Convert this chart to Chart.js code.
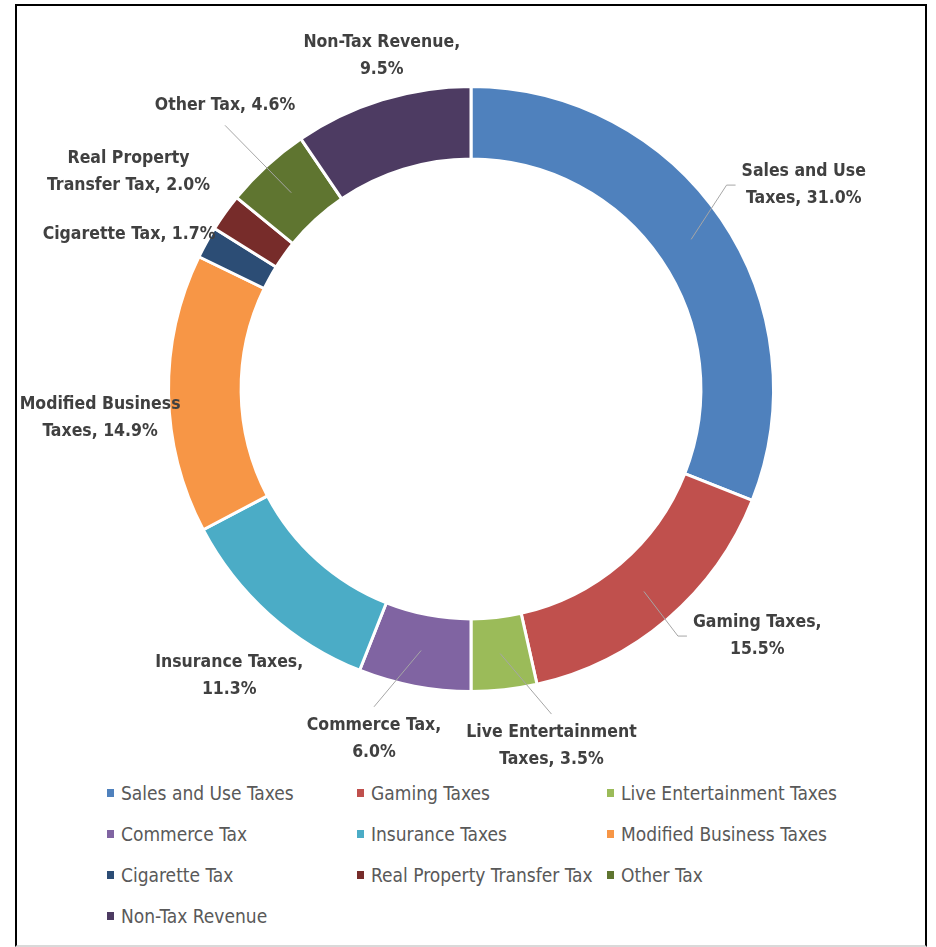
<!DOCTYPE html>
<html lang="en">
<head>
    <meta charset="UTF-8">
    <title>Revenue Share by Source</title>
    <script src="https://cdn.jsdelivr.net/npm/chart.js"></script>
    <style>
        body { margin: 0; background: #fff; width: 936px; height: 947px; position: relative; overflow: hidden; }
        .frame {
            position: absolute; left: 15px; top: 4px; width: 908px; height: 939px;
            border: 2px solid #000; border-bottom-color: #d9d9d9;
        }
        #revenueChart { position: absolute; left: 16px; top: 6px; }
        .legend {
            position: absolute; left: 107px; top: 772px;
            display: grid; grid-template-columns: 250px 250px 250px; grid-auto-rows: 41px;
            font-family: "Liberation Sans Narrow", "DejaVu Sans Condensed", sans-serif;
            font-size: 19px; color: #595959;
        }
        .legend div { display: flex; align-items: center; white-space: nowrap; }
        .legend span.box { display: inline-block; width: 7px; height: 8px; margin-right: 7px; }
    </style>
</head>
<body>
    <div class="frame"></div>
    <canvas id="revenueChart" width="910" height="766"></canvas>
    <div class="legend" id="legend"></div>

    <script>
        // revenue sources, clockwise from 12 o'clock
        const categories = [
            'Sales and Use Taxes', 'Gaming Taxes', 'Live Entertainment Taxes', 'Commerce Tax',
            'Insurance Taxes', 'Modified Business Taxes', 'Cigarette Tax',
            'Real Property Transfer Tax', 'Other Tax', 'Non-Tax Revenue'
        ];
        const shares = [31.0, 15.5, 3.5, 6.0, 11.3, 14.9, 1.7, 2.0, 4.6, 9.5];
        const sliceColors = [
            '#4f81bd', '#c0504d', '#9bbb59', '#8064a2', '#4bacc6',
            '#f79646', '#2c4d75', '#772c2a', '#5f7530', '#4d3b62'
        ];

        // data label layout (distance as multiple of the outer radius, angle nudge in degrees)
        const labelRadius = [1.29, 1.25, 1.21, 1.20, 1.24, 1.23, 1.24, 1.34, 1.24, 1.14];
        const labelNudge = [2.7, -8.7, -6.4, 4.7, -1.8, -3.6, -4.7, -3.3, 1.5, 2.1];
        const firstLineWords = [3, 2, 2, 2, 2, 2, 0, 2, 0, 2];
        const hasLeader = [true, true, true, true, false, false, false, false, true, false];

        const LINE_H = 27;

        const sliceLabels = {
            id: 'sliceLabels',
            afterDatasetsDraw(chart) {
                const ctx = chart.ctx;
                const meta = chart.getDatasetMeta(0);
                ctx.save();
                ctx.font = 'bold 17.5px "Liberation Sans Narrow", "DejaVu Sans Condensed", sans-serif';
                ctx.fillStyle = '#404040';
                ctx.textAlign = 'center';
                ctx.textBaseline = 'middle';
                meta.data.forEach((arc, i) => {
                    const p = arc.getProps(['x', 'y', 'startAngle', 'endAngle', 'outerRadius', 'innerRadius'], true);
                    const mid = (p.startAngle + p.endAngle) / 2;
                    const a = mid + labelNudge[i] * Math.PI / 180;
                    const r = p.outerRadius * labelRadius[i];
                    const cx = p.x + r * Math.cos(a);
                    const cy = p.y + r * Math.sin(a);

                    const words = (categories[i] + ', ' + shares[i].toFixed(1) + '%').split(' ');
                    const n = firstLineWords[i];
                    const lines = n ? [words.slice(0, n).join(' '), words.slice(n).join(' ')] : [words.join(' ')];
                    const w = Math.max(...lines.map(t => ctx.measureText(t).width));
                    const h = lines.length * LINE_H;
                    const box = { l: cx - w / 2, r: cx + w / 2, t: cy - h / 2, b: cy + h / 2 };

                    lines.forEach((t, k) => {
                        ctx.fillText(t, cx, box.t + LINE_H / 2 + k * LINE_H);
                    });

                    if (!hasLeader[i]) return;
                    const mr = (p.outerRadius + p.innerRadius) / 2;
                    const sx = p.x + mr * Math.cos(mid);
                    const sy = p.y + mr * Math.sin(mid);
                    const gapX = Math.abs(sx - cx) - w / 2;
                    const gapY = Math.abs(sy - cy) - h / 2;
                    ctx.beginPath();
                    ctx.strokeStyle = '#a6a6a6';
                    ctx.lineWidth = 1;
                    ctx.moveTo(sx, sy);
                    if (gapX > gapY) {
                        const side = sx < cx ? box.l - 6 : box.r + 6;
                        const dir = sx < cx ? -1 : 1;
                        ctx.lineTo(side + dir * 9, cy);
                        ctx.lineTo(side, cy);
                    } else {
                        ctx.lineTo(cx, sy < cy ? box.t - 5 : box.b + 6);
                    }
                    ctx.stroke();
                });
                ctx.restore();
            }
        };

        new Chart(document.getElementById('revenueChart'), {
            type: 'doughnut',
            data: {
                labels: categories,
                datasets: [{
                    data: shares,
                    backgroundColor: sliceColors,
                    borderColor: '#ffffff',
                    borderWidth: 3
                }]
            },
            options: {
                responsive: false,
                animation: false,
                cutout: '76%',
                layout: { padding: { top: 79, bottom: 79, left: 150, right: 150 } },
                plugins: {
                    legend: { display: false },
                    tooltip: { enabled: false }
                }
            },
            plugins: [sliceLabels]
        });

        // legend in three columns, like the original
        const legendEl = document.getElementById('legend');
        categories.forEach((name, i) => {
            const item = document.createElement('div');
            item.innerHTML = '<span class="box" style="background:' + sliceColors[i] + '"></span>' + name;
            legendEl.appendChild(item);
        });
    </script>
</body>
</html>
